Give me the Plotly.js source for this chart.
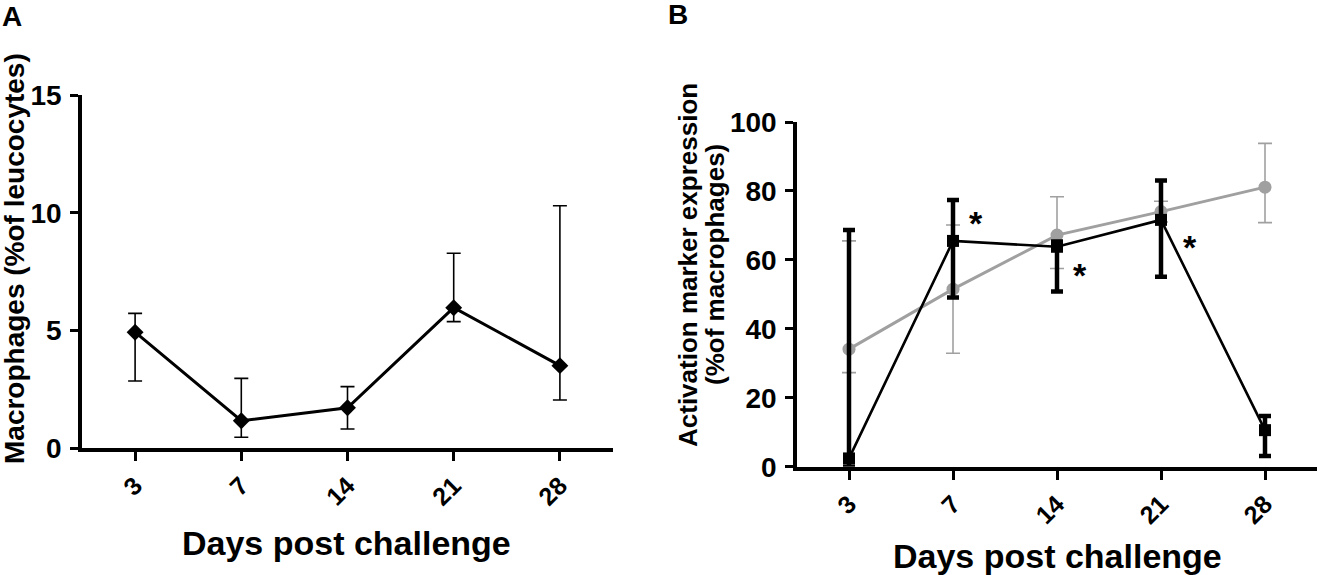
<!DOCTYPE html>
<html>
<head>
<meta charset="utf-8">
<script src="https://cdn.plot.ly/plotly-3.0.1.min.js"></script>
<style>
  html, body { margin: 0; padding: 0; background: #fff; }
  #chart { width: 1317px; height: 575px; }
</style>
</head>
<body>
<div id="chart"></div>
<script>
// days post challenge (category ticks)
const days = ["3", "7", "14", "21", "28"];

// panel A: macrophages, % of leucocytes
const macroMean = [4.93, 1.17, 1.72, 5.97, 3.51];
const macroErrUp = [0.8, 1.8, 0.9, 2.31, 6.79];
const macroErrDown = [2.07, 0.7, 0.9, 0.59, 1.46];

// panel B: activation marker, % of macrophages
const greyMean = [34.1, 51.5, 67.2, 74.0, 81.1];
const greyErrUp = [31.4, 18.6, 11.1, 3.0, 12.7];
const greyErrDown = [6.8, 18.6, 9.7, 3.0, 10.3];

const blackMean = [2.4, 65.5, 63.8, 71.6, 10.6];
const blackErrUp = [66.3, 11.9, 1.5, 11.4, 4.1];
const blackErrDown = [2.4, 16.4, 13.0, 16.5, 7.5];

// significance stars next to black series (category index, y)
const stars = [[1.22, 72.1], [2.22, 57.0], [3.28, 65.3]];

const W = 1317, H = 575;
const px = x => x / W;
const py = y => 1 - y / H;

const tickFont = { family: "Liberation Sans, Arial, sans-serif", size: 28, color: "#000", weight: 700 };
const xTickFont = { family: "Liberation Sans, Arial, sans-serif", size: 25, color: "#000", weight: 700 };
const titleFont = { family: "Liberation Sans, Arial, sans-serif", color: "#000", weight: 700 };

const data = [
  {
    x: days, y: macroMean, xaxis: "x", yaxis: "y",
    type: "scatter", mode: "lines+markers", cliponaxis: false,
    line: { color: "#000", width: 3 },
    marker: { symbol: "diamond", size: 13, color: "#000" },
    error_y: { type: "data", symmetric: false, array: macroErrUp, arrayminus: macroErrDown, color: "#000", thickness: 1.6, width: 7 },
    showlegend: false
  },
  {
    x: days, y: greyMean, xaxis: "x2", yaxis: "y2",
    type: "scatter", mode: "lines+markers", cliponaxis: false,
    line: { color: "#a0a0a0", width: 3 },
    marker: { symbol: "circle", size: 13, color: "#a0a0a0" },
    error_y: { type: "data", symmetric: false, array: greyErrUp, arrayminus: greyErrDown, color: "#a0a0a0", thickness: 1.6, width: 7 },
    showlegend: false
  },
  {
    x: days, y: blackMean, xaxis: "x2", yaxis: "y2",
    type: "scatter", mode: "lines+markers", cliponaxis: false,
    line: { color: "#000", width: 2.6 },
    marker: { symbol: "square", size: 12, color: "#000" },
    error_y: { type: "data", symmetric: false, array: blackErrUp, arrayminus: blackErrDown, color: "#000", thickness: 4.5, width: 6 },
    showlegend: false
  }
];

const xBase = {
  type: "category", range: [-0.5, 4.5], showgrid: false, zeroline: false,
  showline: true, linecolor: "#000", linewidth: 3.8,
  ticks: "outside", ticklen: 9, tickwidth: 3, tickcolor: "#000",
  tickangle: -45, tickfont: xTickFont, fixedrange: true
};
const yBase = {
  showgrid: false, zeroline: false,
  showline: true, linecolor: "#000", linewidth: 3.8,
  ticks: "outside", ticklen: 8, tickwidth: 3, tickcolor: "#000",
  tickfont: tickFont, ticklabelstandoff: 3, fixedrange: true
};

const annotations = [
  { text: "A", x: px(12), y: py(16), size: 28 },
  { text: "B", x: px(678), y: py(15), size: 28 },
  { text: "Days post challenge", x: px(347), y: py(543), size: 34 },
  { text: "Days post challenge", x: px(1057), y: py(556), size: 34 },
  { text: "Macrophages (%of leucocytes)", x: px(14), y: py(259), size: 28, angle: -90 },
  { text: "Activation marker expression", x: px(688), y: py(265), size: 26, angle: -90 },
  { text: "(%of macrophages)", x: px(715), y: py(265), size: 26, angle: -90 }
].map(a => ({
  text: a.text, xref: "paper", yref: "paper", x: a.x, y: a.y,
  xanchor: "center", yanchor: "middle", showarrow: false,
  textangle: a.angle || 0,
  font: Object.assign({}, titleFont, { size: a.size })
}));

stars.forEach(s => {
  annotations.push({
    text: "*", xref: "x2", yref: "y2", x: s[0], y: s[1],
    xanchor: "center", yanchor: "middle", yshift: -5, showarrow: false,
    font: Object.assign({}, titleFont, { size: 34 })
  });
});

const layout = {
  width: W, height: H,
  margin: { l: 0, r: 0, t: 0, b: 0, pad: 0 },
  paper_bgcolor: "#fff", plot_bgcolor: "#fff",
  xaxis: Object.assign({}, xBase, { domain: [px(82), px(613)], anchor: "y" }),
  yaxis: Object.assign({}, yBase, { domain: [py(448.3), py(95)], range: [0, 15], tickvals: [0, 5, 10, 15], anchor: "x" }),
  xaxis2: Object.assign({}, xBase, { domain: [px(797), 1], anchor: "y2" }),
  yaxis2: Object.assign({}, yBase, { domain: [py(466.7), py(122)], range: [0, 100], tickvals: [0, 20, 40, 60, 80, 100], anchor: "x2" }),
  annotations: annotations
};

Plotly.newPlot("chart", data, layout, { displayModeBar: false, staticPlot: true });
</script>
</body>
</html>
